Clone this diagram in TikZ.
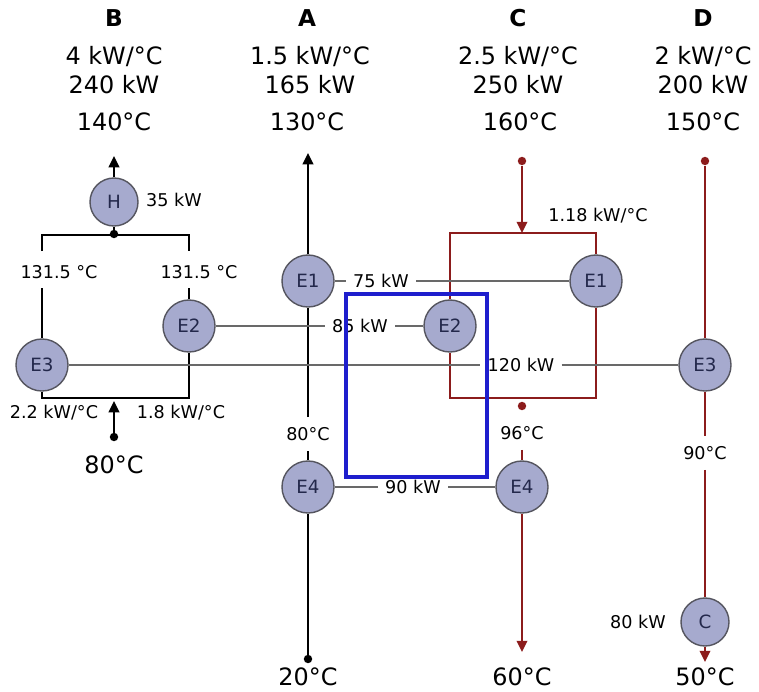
\documentclass[tikz,border=0pt]{standalone}
\usepackage{fontspec}
\setmainfont{DejaVu Sans}
\usetikzlibrary{arrows.meta}
\definecolor{hxfill}{RGB}{166,170,206}
\definecolor{hxline}{RGB}{85,85,95}
\definecolor{hxtext}{RGB}{35,40,75}
\definecolor{hotred}{RGB}{140,28,28}
\definecolor{linkgray}{RGB}{105,105,105}
\definecolor{boxblue}{RGB}{30,30,205}

\begin{document}
\begin{tikzpicture}[x=0.025cm, y=-0.025cm,
    hx/.style={circle, draw=hxline, line width=1pt, fill=hxfill, text=hxtext,
        minimum size=1.3cm, inner sep=0pt, font=\fontsize{13}{15}\selectfont},
    hxs/.style={hx, minimum size=1.2cm},
    headtxt/.style={font=\fontsize{17}{20.5}\selectfont, align=center, inner sep=1pt},
    headname/.style={font=\bfseries\fontsize{16.5}{19}\selectfont, inner sep=1pt},
    lbl/.style={font=\fontsize{12.5}{15}\selectfont, inner xsep=5pt, inner ysep=7pt},
    bullet/.style={circle, fill, inner sep=0pt, minimum size=6pt},
    cold/.style={black, line width=1.6pt},
    hot/.style={hotred, line width=1.6pt},
    hxlink/.style={linkgray, line width=1.1pt},
    arrowtip/.style={-{Triangle[length=8pt,width=7.5pt]}}
]
    \useasboundingbox (0,0) rectangle (759,692);

    % 表头
    \node[headname] (nB) at (114,18) {B};
    \node[headname] (nA) at (307,18) {A};
    \node[headname] (nC) at (518,18) {C};
    \node[headname] (nD) at (703,18) {D};
    \node[headtxt] (hB) at (114,70) {4 kW/°C\\240 kW};
    \node[headtxt] (hA) at (310,70) {1.5 kW/°C\\165 kW};
    \node[headtxt] (hC) at (518,70) {2.5 kW/°C\\250 kW};
    \node[headtxt] (hD) at (703,70) {2 kW/°C\\200 kW};
    \node[headtxt] (tB) at (114,122) {140°C};
    \node[headtxt] (tA) at (307,122) {130°C};
    \node[headtxt] (tC) at (520,122) {160°C};
    \node[headtxt] (tD) at (703,122) {150°C};

    % --------------------------
    % 换热器
    % --------------------------
    \node[hxs] (BH) at (114,202) {H};
    \node[hx] (B2) at (189,326) {E2};
    \node[hx] (B3) at (42,365) {E3};
    \node[hx] (A1) at (308,281) {E1};
    \node[hx] (A4) at (308,487) {E4};
    \node[hx] (C1) at (596,281) {E1};
    \node[hx] (C2) at (450,326) {E2};
    \node[hx] (C4) at (522,487) {E4};
    \node[hx] (D3) at (705,365) {E3};
    \node[hxs] (DC) at (705,622) {C};

    % --------------------------
    % 物流 B
    % --------------------------
    \node[bullet] (bj) at (114,234) {};
    \node[bullet] (bin) at (114,437) {};
    \coordinate (bout) at (114,156);
    \coordinate (bup) at (114,401);
    \coordinate (bl0) at (42,235);
    \coordinate (br0) at (189,235);
    \coordinate (bl1) at (42,251);
    \coordinate (br1) at (189,251);
    \coordinate (bl2) at (42,288);
    \coordinate (br2) at (189,288);
    \coordinate (bl3) at (42,398);
    \coordinate (br3) at (189,398);
    \node[lbl] (bsl) at (59,272) {131.5 °C};
    \node[lbl] (bsr) at (199,272) {131.5 °C};
    \node[lbl] (bcl) at (54,413) {2.2 kW/°C};
    \node[lbl] (bcr) at (181,413) {1.8 kW/°C};
    \node[lbl] (qH) at (174,200) {35 kW};
    \node[headtxt] (bT) at (114,465) {80°C};

    \draw[cold, arrowtip] (BH) -- (bout);
    \draw[cold] (bj) -- (BH);
    \draw[cold] (bl1) -- (bl0) -- (br0) -- (br1);
    \draw[cold] (bl2) -- (B3);
    \draw[cold] (br2) -- (B2);
    \draw[cold] (B3) -- (bl3) -- (br3) -- (B2);
    \draw[cold, arrowtip] (bin) -- (bup);

    % --------------------------
    % 物流 A
    % --------------------------
    \node[lbl] (aM) at (308,434) {80°C};
    \node[bullet] (a0) at (308,659) {};
    \node[headtxt] (aT) at (308,677) {20°C};
    \coordinate (a9) at (308,153);

    \draw[cold, arrowtip] (A1) -- (a9);
    \draw[cold] (aM) -- (A1);
    \draw[cold] (A4) -- (aM);
    \draw[cold] (a0) -- (A4);

    % --------------------------
    % 物流 C
    % --------------------------
    \node[bullet, hotred] (c0) at (522,161) {};
    \node[bullet, hotred] (c5) at (522,406) {};
    \node[lbl] (cM) at (522,433) {96°C};
    \node[lbl] (cS) at (598,216) {1.18 kW/°C};
    \node[headtxt] (cT) at (522,677) {60°C};
    \coordinate (cin) at (522,233);
    \coordinate (ctl) at (450,233);
    \coordinate (ctr) at (596,233);
    \coordinate (cbl) at (450,398);
    \coordinate (cbr) at (596,398);
    \coordinate (c9) at (522,652);

    \draw[hot, arrowtip] (c0) -- (cin);
    \draw[hot] (C2) -- (ctl) -- (ctr) -- (C1);
    \draw[hot] (C1) -- (cbr) -- (cbl) -- (C2);
    \draw[hot] (cM) -- (C4);
    \draw[hot, arrowtip] (C4) -- (c9);

    % --------------------------
    % 物流 D
    % --------------------------
    \node[bullet, hotred] (d0) at (705,161) {};
    \node[lbl] (dM) at (705,453) {90°C};
    \node[lbl] (qC) at (638,622) {80 kW};
    \node[headtxt] (dT) at (705,677) {50°C};
    \coordinate (d9) at (705,662);

    \draw[hot] (d0) -- (D3);
    \draw[hot] (D3) -- (dM);
    \draw[hot] (dM) -- (DC);
    \draw[hot, arrowtip] (DC) -- (d9);

    % --------------------------
    % 换热负荷
    % --------------------------
    \node[lbl] (q1) at (381,281) {75 kW};
    \node[lbl] (q2) at (360,326) {85 kW};
    \node[lbl] (q3) at (521,365) {120 kW};
    \node[lbl] (q4) at (413,487) {90 kW};

    \draw[hxlink] (A1) -- (q1);
    \draw[hxlink] (q1) -- (C1);
    \draw[hxlink] (B2) -- (q2);
    \draw[hxlink] (q2) -- (C2);
    \draw[hxlink] (B3) -- (q3);
    \draw[hxlink] (q3) -- (D3);
    \draw[hxlink] (A4) -- (q4);
    \draw[hxlink] (q4) -- (C4);

    % 蓝框
    \draw[boxblue, line width=2.2pt] (346,294) rectangle (487,477);

\end{tikzpicture}
\end{document}
